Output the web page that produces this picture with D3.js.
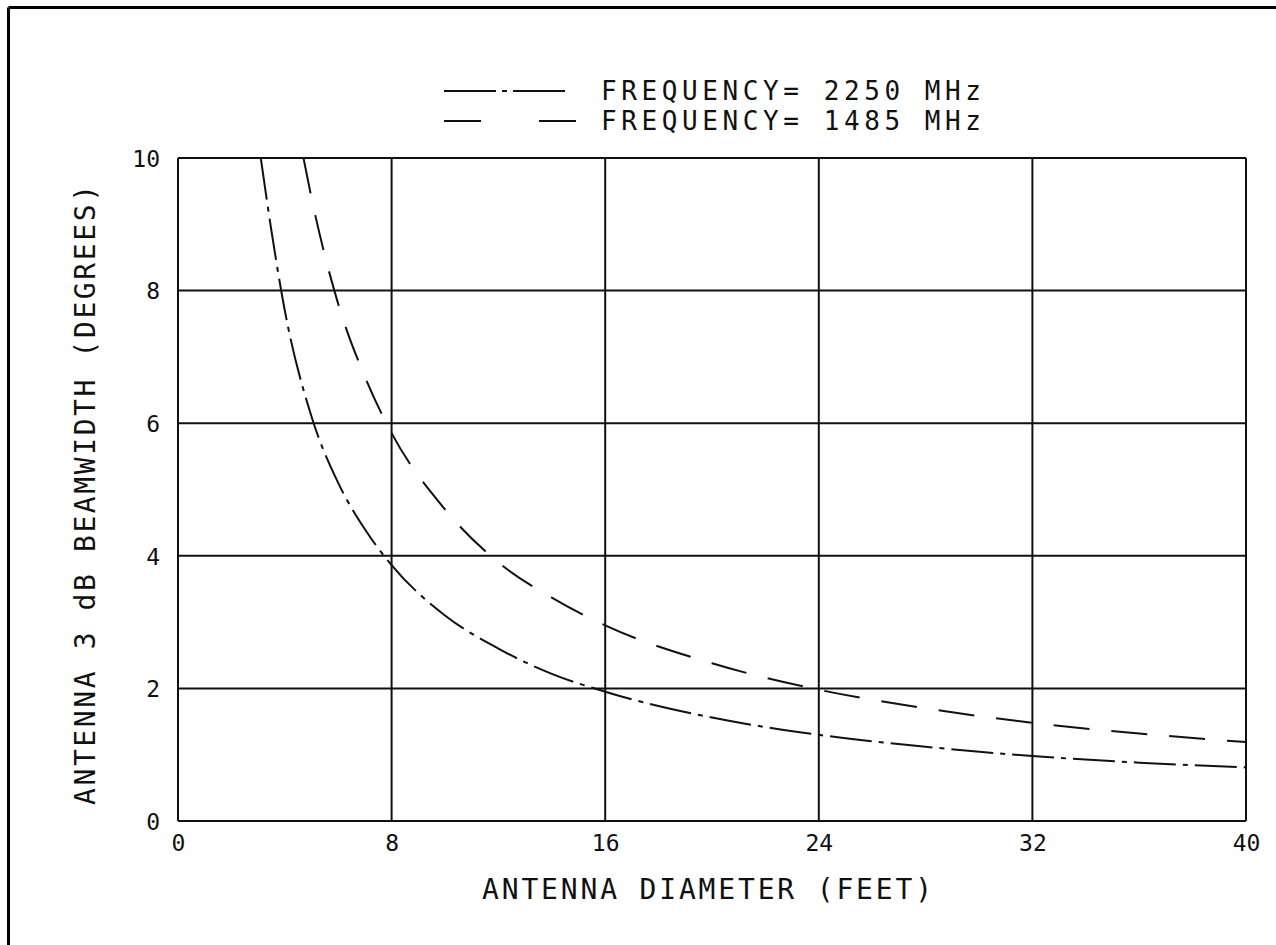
<!DOCTYPE html>
<html>
<head>
<meta charset="utf-8">
<script src="https://cdn.jsdelivr.net/npm/d3@7"></script>
<style>
  html, body { margin: 0; padding: 0; background: #fff; }
  svg { display: block; }
  text { font-family: "DejaVu Sans Mono", "Liberation Mono", monospace; fill: #111; }
</style>
</head>
<body>
<script>
// ---- data ----
const xTicks = [0, 8, 16, 24, 32, 40];
const yTicks = [0, 2, 4, 6, 8, 10];
const seriesNames = ["FREQUENCY= 2250 MHz", "FREQUENCY= 1485 MHz"];
// antenna diameter (feet)
const diam2250 = [3.1, 3.5, 4, 5, 6, 7, 8, 10, 12, 14, 16, 20, 24, 28, 32, 36, 40];
const beam2250 = [10, 8.9, 7.7, 6.1, 5.1, 4.4, 3.86, 3.1, 2.6, 2.22, 1.95, 1.56, 1.3, 1.12, 0.98, 0.88, 0.81];
const diam1485 = [4.7, 5, 6, 7, 8, 10, 12, 14, 16, 20, 24, 28, 32, 36, 40];
const beam1485 = [10, 9.4, 7.8, 6.7, 5.85, 4.7, 3.9, 3.37, 2.95, 2.38, 1.98, 1.7, 1.48, 1.32, 1.19];
const xTitle = "ANTENNA DIAMETER (FEET)";
const yTitle = "ANTENNA 3 dB BEAMWIDTH (DEGREES)";

const W = 1276, H = 945;
const svg = d3.select("body").append("svg").attr("width", W).attr("height", H);

// page border (left & top)
svg.append("line").attr("x1", 8.5).attr("y1", 7.5).attr("x2", W).attr("y2", 7.5)
  .attr("stroke", "#000").attr("stroke-width", 3);
svg.append("line").attr("x1", 8.5).attr("y1", 7.5).attr("x2", 8.5).attr("y2", H)
  .attr("stroke", "#000").attr("stroke-width", 3);

const x = d3.scaleLinear().domain([0, 40]).range([178, 1246]);
const y = d3.scaleLinear().domain([0, 10]).range([821, 158]);

// grid
const grid = svg.append("g").attr("stroke", "#111").attr("stroke-width", 2);
xTicks.forEach(t => grid.append("line").attr("x1", x(t)).attr("x2", x(t)).attr("y1", y(0)).attr("y2", y(10)));
yTicks.forEach(t => grid.append("line").attr("x1", x(0)).attr("x2", x(40)).attr("y1", y(t)).attr("y2", y(t)));

// axes (labels only, via d3 axis)
const xAxis = svg.append("g").attr("transform", `translate(0,${y(0)})`)
  .call(d3.axisBottom(x).tickValues(xTicks).tickSize(0).tickPadding(14).tickFormat(d3.format("d")));
const yAxis = svg.append("g").attr("transform", `translate(${x(0)},0)`)
  .call(d3.axisLeft(y).tickValues(yTicks).tickSize(0).tickPadding(18).tickFormat(d3.format("d")));
[xAxis, yAxis].forEach(a => {
  a.select(".domain").remove();
  a.selectAll("text").attr("font-size", 23).attr("font-family", "DejaVu Sans Mono").attr("fill", "#111");
});
xAxis.selectAll("text").attr("dy", "0.71em");
yAxis.selectAll("text").attr("dy", "0.36em");

// curves
const line = d3.line().x(d => x(d[0])).y(d => y(d[1])).curve(d3.curveMonotoneX);
const data2250 = diam2250.map((d, i) => [d, beam2250[i]]);
const data1485 = diam1485.map((d, i) => [d, beam1485[i]]);
const dash2250 = "42,7,5,7";
const dash1485 = "36,22";
svg.append("path").datum(data2250).attr("d", line).attr("fill", "none")
  .attr("stroke", "#111").attr("stroke-width", 2).attr("stroke-dasharray", dash2250);
svg.append("path").datum(data1485).attr("d", line).attr("fill", "none")
  .attr("stroke", "#111").attr("stroke-width", 2).attr("stroke-dasharray", dash1485);

// legend
const leg = svg.append("g");
const legY = [91, 121];
const legDash = ["52,6,5,6,52", "37,58,37"];
seriesNames.forEach((name, i) => {
  leg.append("line").attr("x1", 444).attr("x2", 578).attr("y1", legY[i]).attr("y2", legY[i])
    .attr("stroke", "#111").attr("stroke-width", 2).attr("stroke-dasharray", legDash[i]);
  leg.append("text").attr("x", 601).attr("y", legY[i]).attr("dy", "0.36em")
    .attr("font-size", 26).attr("textLength", 380).attr("lengthAdjust", "spacing").text(name);
});

// axis titles
svg.append("text").attr("x", 707).attr("y", 889).attr("dy", "0.36em").attr("text-anchor", "middle")
  .attr("font-size", 28).attr("textLength", 450).attr("lengthAdjust", "spacing").text(xTitle);
svg.append("text").attr("transform", `translate(85,${(185 + 805) / 2}) rotate(-90)`)
  .attr("dy", "0.36em").attr("text-anchor", "middle")
  .attr("font-size", 28).attr("textLength", 620).attr("lengthAdjust", "spacing").text(yTitle);
</script>
</body>
</html>
